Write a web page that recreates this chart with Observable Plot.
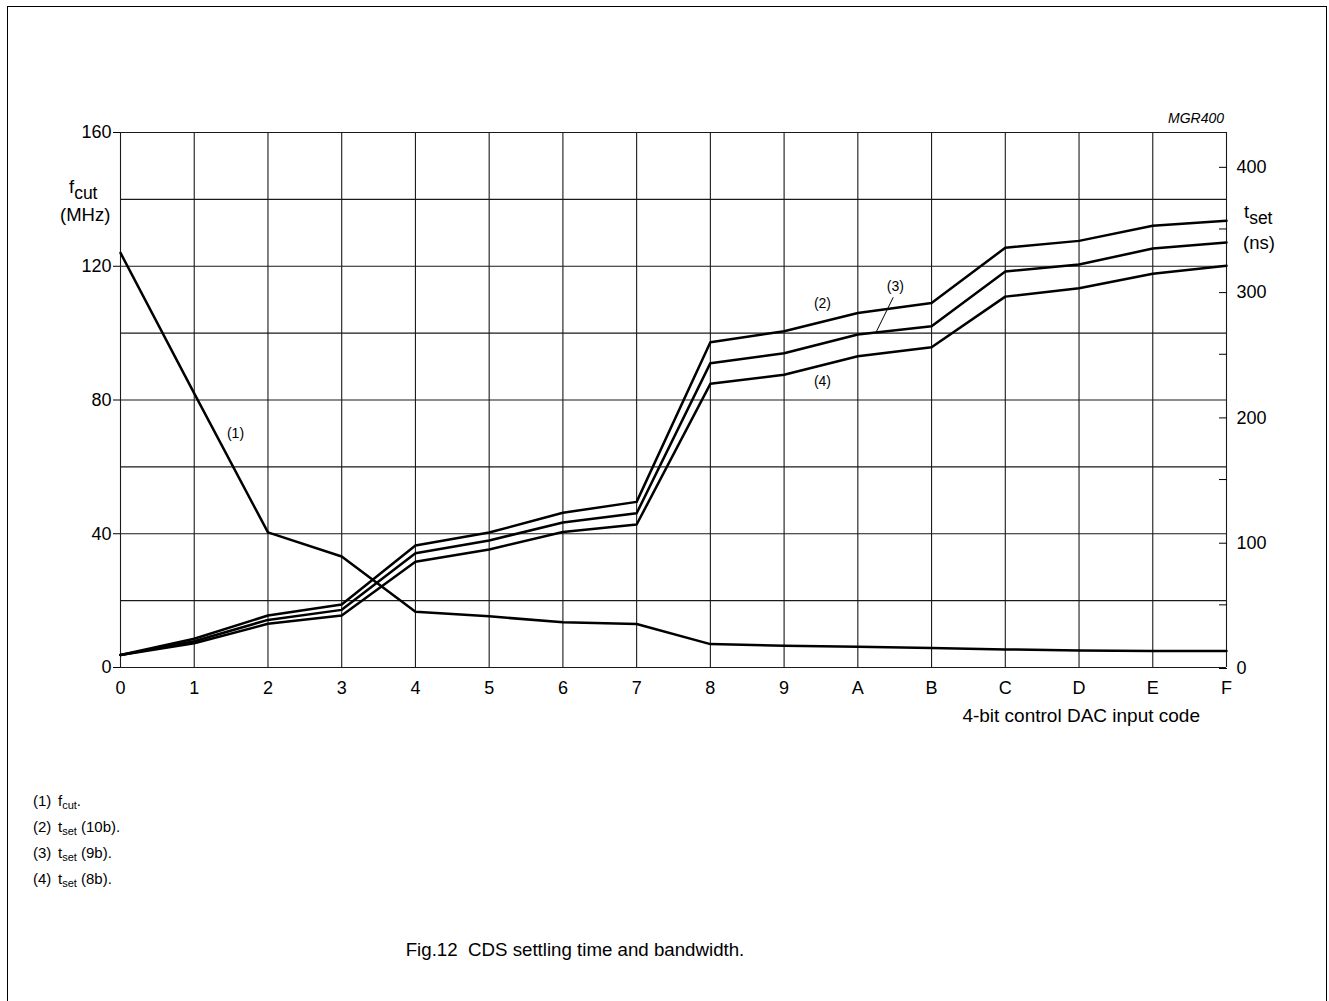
<!DOCTYPE html>
<html>
<head>
<meta charset="utf-8">
<script src="https://cdn.jsdelivr.net/npm/d3@7"></script>
<script src="https://cdn.jsdelivr.net/npm/@observablehq/plot@0.6"></script>
<style>
  html, body { margin: 0; padding: 0; background: #fff; }
  body { font-family: "Liberation Sans", Arial, sans-serif; color: #000; }
  #page { position: relative; width: 1329px; height: 1001px; overflow: hidden; }
  #border { position: absolute; left: 7px; top: 6px; width: 1320px; height: 1020px; border: 1.5px solid #000; box-sizing: border-box; }
  #chart { position: absolute; left: 0; top: 0; }
  .abs { position: absolute; white-space: nowrap; line-height: 1; }
  .lbl { font-size: 18.5px; }
  .sub { font-size: 17.5px; position: relative; top: 6px; }
  .nsub { font-size: 11px; position: relative; top: 3px; }
  .note { font-size: 15px; left: 33px; }
  .note .num { display: inline-block; width: 25px; }
</style>
</head>
<body>
<div id="page">
  <div id="border"></div>
  <div id="chart"></div>
  <div class="abs" style="right:105px; top:111px; font-size:14px; font-style:italic;">MGR400</div>
  <div class="abs lbl" style="left:69px; top:178px;">f<span class="sub">cut</span></div>
  <div class="abs lbl" style="left:60px; top:206px;">(MHz)</div>
  <div class="abs lbl" style="left:1244px; top:203px;">t<span class="sub">set</span></div>
  <div class="abs lbl" style="left:1243px; top:234px;">(ns)</div>
  <div class="abs" style="right:129px; top:706px; font-size:19px;">4-bit control DAC input code</div>
  <div class="abs note" style="top:793px;"><span class="num">(1)</span>f<span class="nsub">cut</span>.</div>
  <div class="abs note" style="top:819px;"><span class="num">(2)</span>t<span class="nsub">set</span> (10b).</div>
  <div class="abs note" style="top:845px;"><span class="num">(3)</span>t<span class="nsub">set</span> (9b).</div>
  <div class="abs note" style="top:871px;"><span class="num">(4)</span>t<span class="nsub">set</span> (8b).</div>
  <div class="abs" style="left:0; width:1150px; text-align:center; top:941px; font-size:18.7px;">Fig.12&nbsp;&nbsp;CDS settling time and bandwidth.</div>
</div>
<script>
// ---- data ----
const codes = ["0","1","2","3","4","5","6","7","8","9","A","B","C","D","E","F"];
const fcut    = [124, 82, 40.4, 33.2, 16.7, 15.3, 13.5, 13.0, 7.0, 6.5, 6.2, 5.8, 5.4, 5.1, 4.9, 4.9];   // MHz
const tset10b = [10, 22.9, 41.5, 50.3, 97.4, 107.7, 123.5, 132.2, 259.6, 268.4, 283, 291, 335, 340.5, 352.5, 356.5]; // ns
const tset9b  = [10, 21.0, 38.0, 46.0, 91.2, 101.4, 115.7, 123.1, 242.9, 250.8, 265.8, 272.4, 316, 321.6, 334.4, 339.2];
const tset8b  = [10, 19.4, 34.9, 41.5, 84.4, 94.2, 108.2, 114.1, 226.4, 233.6, 248.4, 255.6, 296, 302.7, 314.2, 320.6];
const fTicks = [0, 40, 80, 120, 160];
const fGrid  = [0, 20, 40, 60, 80, 100, 120, 140, 160];
const tTicks = [0, 100, 200, 300, 400];
const tMinor = [50, 150, 250, 350];
const fMax = 160, tMax = 427;
const curveLabels = [
  {code: 1.56, f: 69.9, text: "(1)"},
  {code: 9.52, f: 109, text: "(2)"},
  {code: 10.51, f: 114, text: "(3)"},
  {code: 9.52, f: 85.4, text: "(4)"}
];
const leader = [{code1: 10.48, f1: 110.7, code2: 10.25, f2: 100.4}];

// ---- build ----
const toF = t => t * fMax / tMax;
const toT = f => Math.round(f * tMax / fMax);
const idx = d3.range(codes.length);
const fRows = idx.map(i => ({i, v: fcut[i]}));
const tRows = [tset10b, tset9b, tset8b].flatMap((s, k) => idx.map(i => ({i, k, v: toF(s[i])})));

const gridStroke = {stroke: "#1a1a1a", strokeOpacity: 1, strokeWidth: 1.1};

const chart = Plot.plot({
  width: 1329,
  height: 740,
  marginLeft: 120,
  marginRight: 103,
  marginTop: 132,
  marginBottom: 73,
  style: {fontFamily: "'Liberation Sans', Arial, sans-serif", fontSize: "18px", background: "transparent", color: "#000"},
  x: {domain: [0, codes.length - 1]},
  y: {domain: [0, fMax]},
  marks: [
    Plot.gridX(idx, gridStroke),
    Plot.gridY(fGrid, gridStroke),
    Plot.axisX(idx, {tickSize: 0, tickPadding: 14, tickFormat: i => codes[i], fontSize: 18, label: null}),
    Plot.axisY(fTicks, {anchor: "left", tickSize: 7, tickPadding: 2, fontSize: 18, label: null}),
    Plot.axisY(tTicks.map(toF), {anchor: "right", tickSize: -8, tickPadding: 18, tickFormat: toT, fontSize: 18, dy: 1, label: null}),
    Plot.axisY(tMinor.map(toF), {anchor: "right", tickSize: -8, tickFormat: () => "", label: null}),
    Plot.line(fRows, {x: "i", y: "v", stroke: "#000", strokeWidth: 2.5}),
    Plot.line(tRows, {x: "i", y: "v", z: "k", stroke: "#000", strokeWidth: 2.5}),
    Plot.text(curveLabels, {x: "code", y: "f", text: "text", fontSize: 14}),
    Plot.link(leader, {x1: "code1", y1: "f1", x2: "code2", y2: "f2", stroke: "#000", strokeWidth: 1})
  ]
});
document.getElementById("chart").appendChild(chart);
</script>
</body>
</html>
